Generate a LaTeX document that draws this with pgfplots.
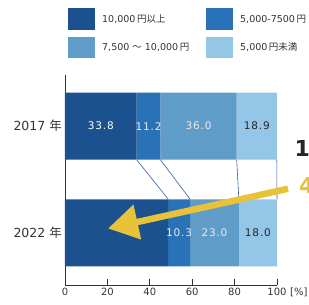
\documentclass[border=0pt]{standalone}
\usepackage{fontspec}
\setmainfont{DejaVu Sans}
\newfontfamily\jp{Noto Sans CJK JP}
\newfontfamily\numf[LetterSpace=8]{DejaVu Sans}
\usepackage{pgfplots}
\pgfplotsset{compat=1.18}
\usetikzlibrary{arrows.meta}
\definecolor{c1}{HTML}{1C5190}
\definecolor{c2}{HTML}{2A72B8}
\definecolor{c3}{HTML}{609CC8}
\definecolor{c4}{HTML}{94C6E8}
\definecolor{ylw}{HTML}{E8C33A}
\definecolor{txt}{HTML}{333333}
\definecolor{conn}{HTML}{2F5F9E}
\begin{document}
\begin{tikzpicture}
\pgfplotsset{
  common/.style={
    at={(0,0)}, anchor=south west,
    width=212bp, height=210bp, scale only axis,
    xmin=0, xmax=100, ymin=-0.49, ymax=1.48,
    clip=false,
  }
}
\begin{axis}[common,
  xbar stacked, bar width=67bp,
  axis x line=bottom, axis y line=left,
  axis line style={-, color=txt, line width=0.8bp},
  xtick={0,20,...,100},
  ytick={0,1},
  yticklabels={{2022 {\jp 年}},{2017 {\jp 年}}},
  /pgf/number format/assume math mode=true,
  xticklabel style={font=\fontsize{10bp}{12bp}\selectfont, text=txt},
  yticklabel style={font=\fontsize{12.5bp}{15bp}\selectfont, text=txt, inner sep=0pt, xshift=-3bp},
  x tick style={color=txt, line width=0.8bp},
  y tick style={draw=none},
  tick align=inside, major tick length=6bp,
  point meta=explicit symbolic,
  nodes near coords,
  every node near coord/.append style={anchor=center,
     font=\numf\fontsize{10.5bp}{12bp}\selectfont, inner sep=0pt},
]
\addplot[fill=c1, draw=none, nodes near coords style={text=white}] coordinates {(48.7,0) [] (33.8,1) [33.8]};
\addplot[fill=c2, draw=none, nodes near coords style={text=white!92!black}] coordinates {(10.3,0) [10.3] (11.2,1) [11.2]};
\addplot[fill=c3, draw=none, nodes near coords style={text=white!92!black}] coordinates {(23.0,0) [23.0] (36.0,1) [36.0]};
\addplot[fill=c4, draw=none, nodes near coords style={text=black!85}] coordinates {(18.0,0) [18.0] (18.9,1) [18.9]};
\end{axis}
\begin{axis}[common, hide axis]
\addplot[conn, line width=0.6bp, no marks] coordinates {(33.8,0.685) (48.7,0.315)};
\addplot[conn, line width=0.6bp, no marks] coordinates {(45.0,0.685) (59.0,0.315)};
\addplot[conn, line width=0.6bp, no marks] coordinates {(81.0,0.685) (82.0,0.315)};
\addplot[conn, line width=0.6bp, no marks] coordinates {(99.9,0.685) (100,0.315)};
\draw[ylw, line width=6.5bp, -{Triangle[length=30bp,width=34bp]}] (axis cs:105.2,0.413) -- (axis cs:20.3,0.04);
\end{axis}
% unit label
\node[anchor=west, inner sep=0pt, text=txt, font=\fontsize{10bp}{12bp}\selectfont] at (225bp,-7.5bp) {[\%]};
% legend
\fill[c1] (3bp,255bp) rectangle (30bp,277bp);
\fill[c2] (141bp,255bp) rectangle (168bp,277bp);
\fill[c3] (3bp,227bp) rectangle (30bp,248bp);
\fill[c4] (141bp,227bp) rectangle (168bp,248bp);
\begin{scope}[every node/.style={anchor=west, inner sep=0pt, text=txt, font=\fontsize{9.5bp}{11bp}\selectfont}]
\node at (37bp,266bp) {10,000\,{\jp 円以上}};
\node at (175bp,266bp) {5,000-7500\,{\jp 円}};
\node at (37bp,237.5bp) {7,500 {\jp ～} 10,000\,{\jp 円}};
\node at (175bp,237.5bp) {5,000\,{\jp 円未満}};
\end{scope}
% big annotation text (cut at the right edge)
\node[anchor=base west, inner sep=0pt, font=\bfseries\fontsize{22bp}{26bp}\selectfont, text=black!85] at (229.5bp,128bp) {1};
\node[anchor=base west, inner sep=0pt, font=\bfseries\fontsize{22bp}{26bp}\selectfont, text=ylw] at (234bp,91bp) {4};
\pgfresetboundingbox
\path (-65bp,-20bp) rectangle (244bp,285bp);
\end{tikzpicture}
\end{document}
